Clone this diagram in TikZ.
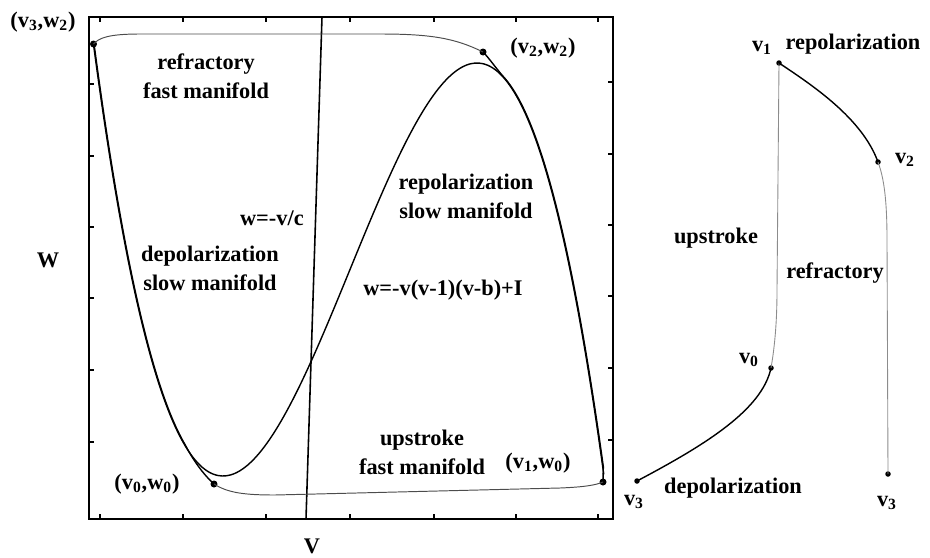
\documentclass[tikz,border=0pt]{standalone}
\usepackage{fontspec}
\setmainfont{Liberation Serif}
\usepackage{tikz}
\usetikzlibrary{positioning,calc}

\begin{document}
\begin{tikzpicture}[
  x=0.02cm, y=-0.02cm,
  font=\fontsize{12.7}{16.5}\selectfont\bfseries,
  fixpt/.style={circle,fill,inner sep=0pt,minimum size=1.4mm},
  tpt/.style={circle,fill,inner sep=0pt,minimum size=1.1mm},
  txt/.style={align=center,inner sep=0pt},
  slow/.style={line width=0.8pt},
  fast/.style={line width=0.55pt,black!70},
  faint/.style={line width=0.5pt,black!45}
]
\useasboundingbox (0,0) rectangle (930,558);
\draw[line width=1pt] (89,17) rectangle (613,519);
\foreach \t in {100,183,266,350,434,516,598}
  \draw[line width=0.6pt] (\t,17) -- ++(0,5) (\t,519) -- ++(0,-5);
\foreach \t in {84,156,227,298,370,442}
  \draw[line width=0.6pt] (89,\t) -- ++(5,0) (613,\t-2) -- ++(-5,0);
\draw[line width=0.9pt] (322,17) -- (306,519);
\draw[slow] plot[domain=-2.02:2,samples=120,smooth]
  ({350+127*\x},{269.5-103.25*(3*\x-\x*\x*\x)});

\node[fixpt] (vw3) at (93.5,44) {};
\node[fixpt] (vw2) at (483,52) {};
\node[fixpt] (vw0) at (214,484) {};
\node[fixpt] (vw1) at (603,482) {};
\draw[slow] (vw3.center) -- plot[domain=-2.02:-1.3,samples=60,smooth]
  ({350+127*\x+0.6},{269.5-103.25*(3*\x-\x*\x*\x)})
  .. controls (194,462) and (205,476) .. (vw0.center);
\draw[slow] (vw1.center) -- plot[domain=1.99:1.2,samples=60,smooth]
  ({350+127*\x+0.6},{269.5-103.25*(3*\x-\x*\x*\x)})
  .. controls (495,67) and (489,58) .. (vw2.center);
\draw[fast] (vw2.center) .. controls (455,38) and (430,34) .. (380,34) -- (140,34)
  .. controls (108,34) and (99,38) .. (vw3.center);
\draw[fast] (vw0.center) .. controls (228,493) and (245,495) .. (275,495) -- (560,488)
  .. controls (585,487) and (596,485) .. (vw1.center);

\node[txt] (lvw3) at (43,22) {(v\textsubscript{3},w\textsubscript{2})};
\node[txt] (lvw2) at (543,48) {(v\textsubscript{2},w\textsubscript{2})};
\node[txt] (lvw0) at (147,484) {(v\textsubscript{0},w\textsubscript{0})};
\node[txt] (lvw1) at (538,463) {(v\textsubscript{1},w\textsubscript{0})};
\node[txt] (refr) at (206,76) {refractory\\fast manifold};
\node[txt] (repo) at (466,196) {repolarization\\slow manifold};
\node[txt] (depo) at (210,268) {depolarization\\slow manifold};
\node[txt] (upst) at (422,452) {upstroke\\fast manifold};
\node[txt,anchor=east] (ncv) at (304,218) {w=-v/c};
\node[txt,anchor=west] (ncw) at (363,290) {w=-v(v-1)(v-b)+I};
\node[txt] (wax) at (48,260) {W};
\node[txt] (vax) at (312,546) {V};

\node[tpt] (r1) at (779,63) {};
\node[tpt] (r2) at (878,162) {};
\node[tpt] (r0) at (771,368) {};
\node[tpt] (r3a) at (637,481) {};
\node[tpt] (r3b) at (888,474) {};
\draw[faint] (r0.center) .. controls (775,345) and (777,320) .. (777,290) -- (r1.center);
\draw[slow] (r1.center) .. controls (812,85) and (862,118) .. (r2.center);
\draw[faint] (r2.center) .. controls (884,178) and (887,200) .. (887,240) -- (r3b.center);
\draw[slow] (r3a.center) .. controls (705,445) and (762,410) .. (r0.center);

\node[txt] (lv1) at (762,48) {v\textsubscript{1}};
\node[txt] (lrep) at (853,44) {repolarization};
\node[txt] (lv2) at (905,160) {v\textsubscript{2}};
\node[txt] (lup) at (716,238) {upstroke};
\node[txt] (lref) at (835,273) {refractory};
\node[txt] (lv0) at (749,360) {v\textsubscript{0}};
\node[txt] (ldep) at (733,488) {depolarization};
\node[txt] (lv3a) at (634,502) {v\textsubscript{3}};
\node[txt] (lv3b) at (887,503) {v\textsubscript{3}};
\end{tikzpicture}
\end{document}
